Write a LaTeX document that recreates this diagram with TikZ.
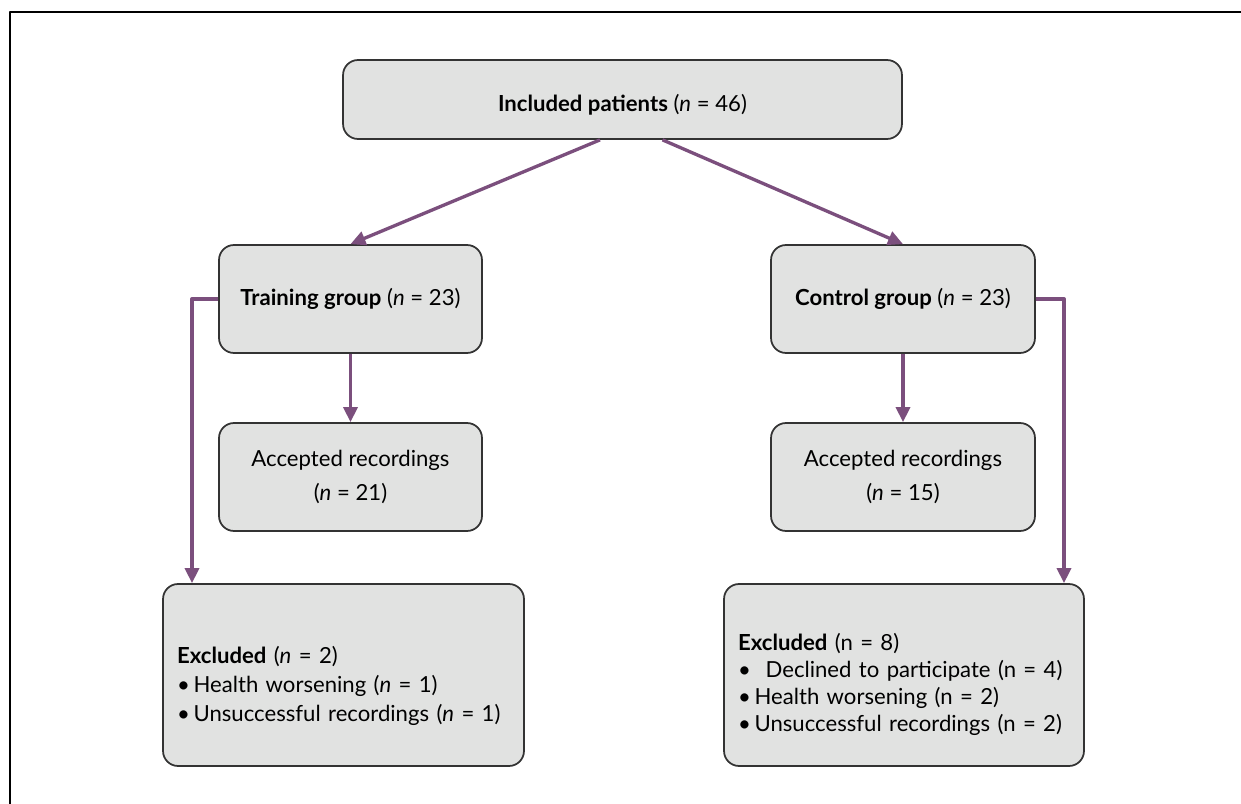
\documentclass[tikz,border=0pt]{standalone}
\usepackage{fontspec}
\setmainfont{Lato}
\usetikzlibrary{arrows.meta}
\definecolor{boxgray}{HTML}{E1E2E1}
\definecolor{flowpurple}{HTML}{7B4F7D}
\newcommand{\eqs}{\ =\ }
\begin{document}
\begin{tikzpicture}[x=0.02cm,y=-0.02cm,line join=round]
	\tikzstyle{box}=[draw=black!80,fill=boxgray,line width=1pt,rounded corners=0.3cm,inner sep=0pt,font=\fontsize{12.6}{16}\selectfont];
	\tikzstyle{flow}=[draw=flowpurple,line width=1.9pt,-{Triangle[length=0.3cm,width=0.28cm]}];
	\useasboundingbox (0,0) rectangle (1241,804);
	%% frame
	\draw[line width=0.8pt] (10,804) -- (10,12) -- (1241,12);
	%% boxes
	\node[box,minimum width=11.18cm,minimum height=1.58cm] (top) at (622.5,99.5) {\rule{0pt}{0.55cm}\textbf{Included patients} (\textit{n}\eqs 46)};
	\node[box,minimum width=5.26cm,minimum height=2.16cm] (train) at (350.5,299) {\textbf{Training group} (\textit{n}\eqs 23)};
	\node[box,minimum width=5.28cm,minimum height=2.16cm] (ctrl) at (903,299) {\textbf{Control group} (\textit{n}\eqs 23)};
	\node[box,minimum width=5.26cm,minimum height=2.16cm,align=center,font=\fontsize{12.6}{19}\selectfont] (acc1) at (350.5,477) {Accepted recordings\\(\textit{n}\eqs 21)};
	\node[box,minimum width=5.28cm,minimum height=2.16cm,align=center,font=\fontsize{12.6}{19}\selectfont] (acc2) at (903,477) {Accepted recordings\\(\textit{n}\eqs 15)};
	\node[box,minimum height=3.64cm,text width=6.66cm,inner xsep=0.28cm,align=left,font=\fontsize{12.6}{16.5}\selectfont] (excl1) at (343.5,675)
		{\rule{0pt}{0.8cm}\textbf{Excluded} (\textit{n}\eqs 2)\\ \textbullet\,Health worsening (\textit{n}\eqs 1)\\ \textbullet\,Unsuccessful recordings (\textit{n}\eqs 1)};
	\node[box,minimum height=3.64cm,text width=6.64cm,inner xsep=0.28cm,align=left,font=\fontsize{12.6}{15.5}\selectfont] (excl2) at (904,675)
		{\rule{0pt}{0.72cm}\textbf{Excluded} (n\eqs 8)\\ \textbullet\ \ Declined to participate (n\eqs 4)\\ \textbullet\,Health worsening (n\eqs 2)\\ \textbullet\,Unsuccessful recordings (n\eqs 2)};
	%% connections
	\coordinate (lb) at (192,299);
	\coordinate (rb) at (1064,299);
	\draw[flow] ([xshift=-0.45cm]top.south) -- (train.north);
	\draw[flow] ([xshift=0.8cm]top.south) -- (ctrl.north);
	\draw[flow] (train.south) -- (acc1.north);
	\draw[flow] (ctrl.south) -- (acc2.north);
	\draw[flow] (train.west) -- (lb) -- (lb |- excl1.north);
	\draw[flow] (ctrl.east) -- (rb) -- (rb |- excl2.north);
\end{tikzpicture}
\end{document}
